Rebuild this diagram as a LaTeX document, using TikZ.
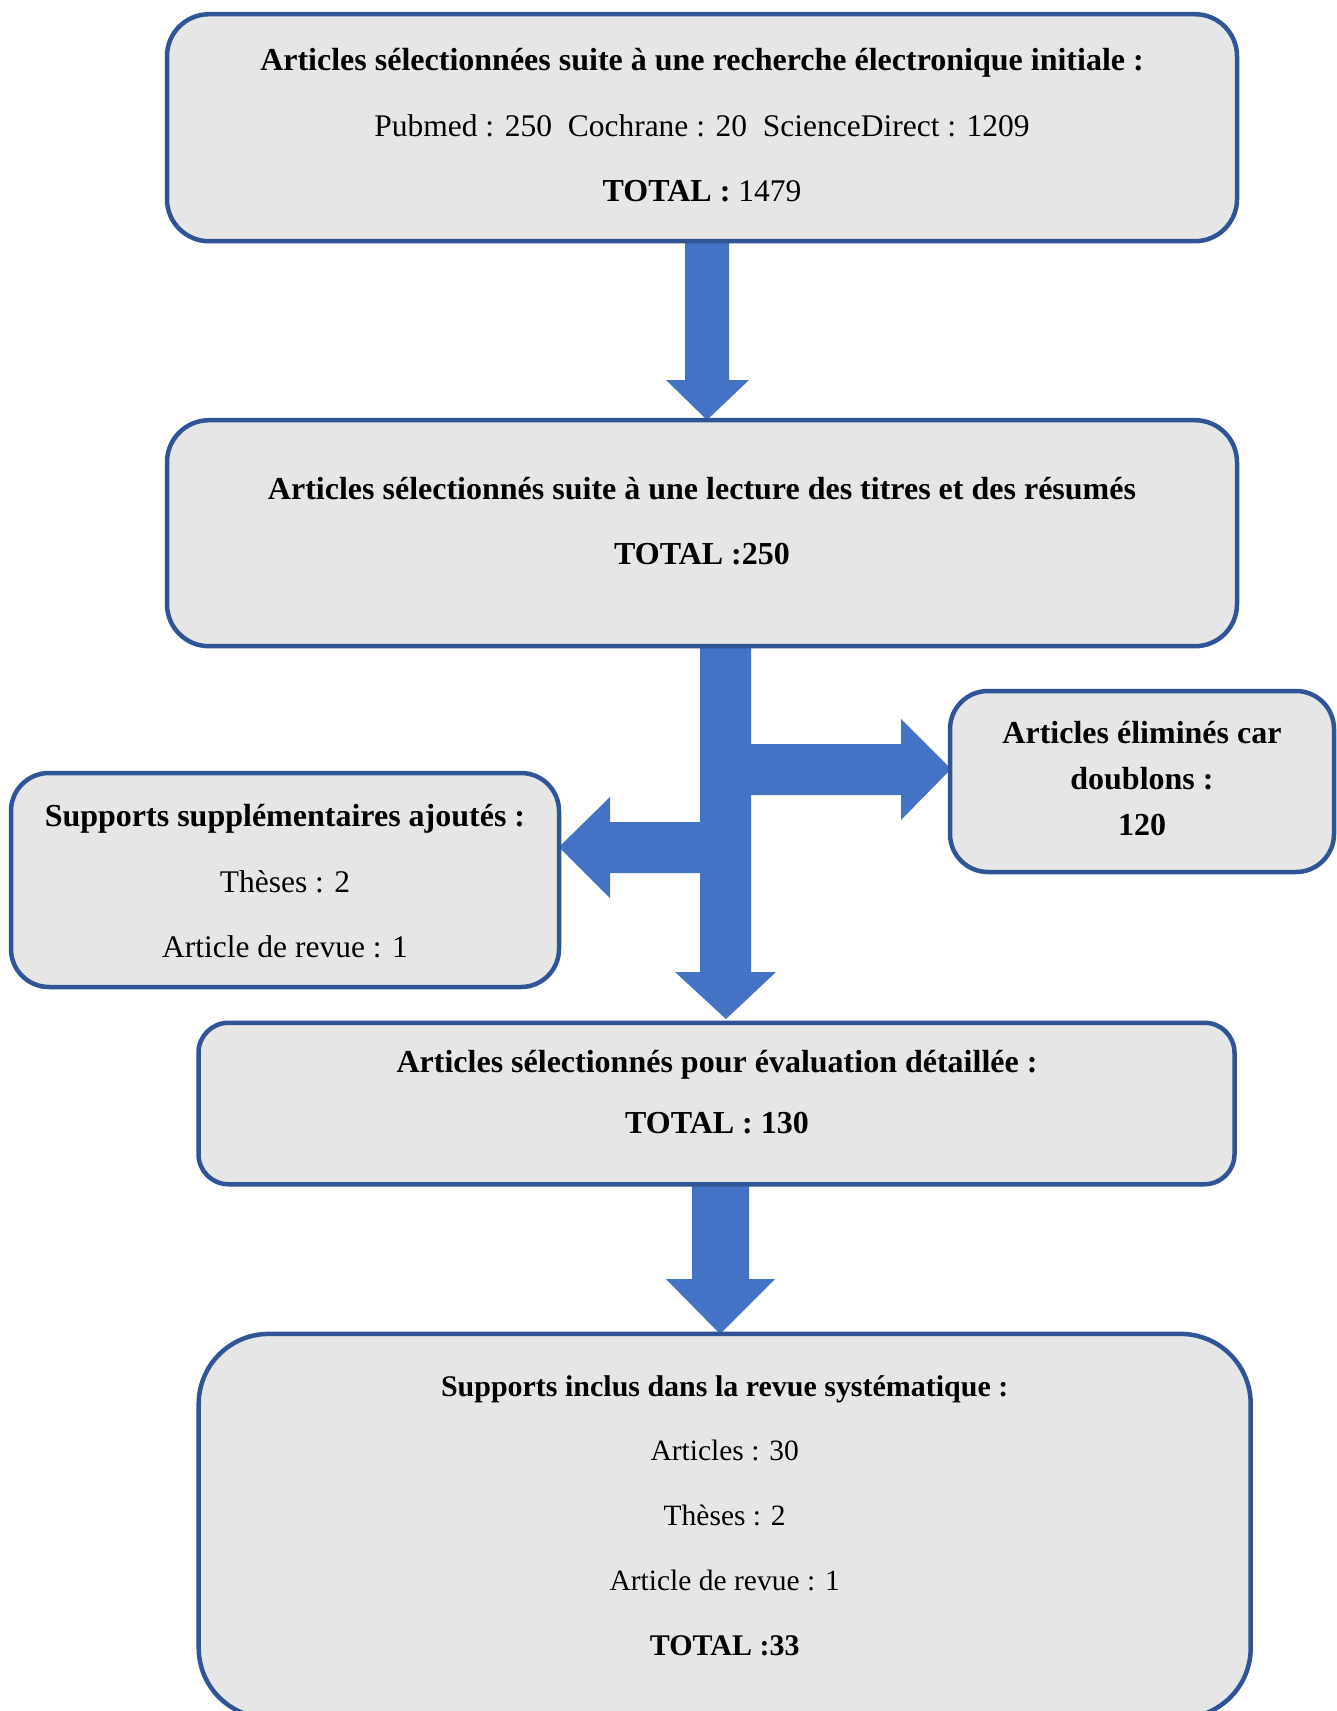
\documentclass[tikz,border=0pt]{standalone}
\usepackage{fontspec}
\setmainfont{Liberation Serif}[BoldFeatures={Scale=1.016}]
\definecolor{bord}{HTML}{2F5597}
\definecolor{boxfill}{HTML}{E6E6E6}
\definecolor{arrowc}{HTML}{4472C4}
\tikzset{
  flowbox/.style={draw=bord, fill=boxfill, line width=4.5pt, rectangle, inner sep=0pt},
  txt/.style={align=center, text=black, inner sep=0pt, font=\fontsize{31.5}{65.5}\selectfont},
  blockarrow/.style={fill=arrowc, draw=none}
}
\begin{document}
\begin{tikzpicture}[x=1pt,y=-1pt]
\useasboundingbox (0,0) rectangle (1337,1711);
\clip (0,0) rectangle (1337,1711);
% block arrows
\fill[blockarrow] (685,241) -- (729,241) -- (729,380) -- (749,380) -- (707,420) -- (666,380) -- (685,380) -- cycle;
\fill[blockarrow] (700,646) -- (751,646) -- (751,972) -- (776,972) -- (726,1019) -- (675,972) -- (700,972) -- cycle;
\fill[blockarrow] (751,744) -- (901,744) -- (901,719) -- (951,769) -- (901,820) -- (901,795) -- (751,795) -- cycle;
\fill[blockarrow] (700,822) -- (610,822) -- (610,797) -- (559,847) -- (610,898) -- (610,873) -- (700,873) -- cycle;
\fill[blockarrow] (692,1184) -- (749,1184) -- (749,1279) -- (775,1279) -- (720,1334) -- (666,1279) -- (692,1279) -- cycle;
% boxes
\node[flowbox, rounded corners=42pt, minimum width=1070pt, minimum height=227pt] (b1) at (702,127.7) {};
\node[flowbox, rounded corners=42pt, minimum width=1070pt, minimum height=226pt] (b2) at (702,533.2) {};
\node[flowbox, rounded corners=38pt, minimum width=548pt, minimum height=214pt] (bl) at (285,880) {};
\node[flowbox, rounded corners=38pt, minimum width=384pt, minimum height=181pt] (br) at (1142,781.5) {};
\node[flowbox, rounded corners=30pt, minimum width=1036pt, minimum height=161.5pt] (b3) at (716.5,1103.5) {};
\node[flowbox, rounded corners=70pt, minimum width=1052pt, minimum height=384pt] (b4) at (724.7,1525.9) {};
% texts
\node[txt] (t1) at (702,125.5) {\textbf{Articles sélectionnées suite à une recherche électronique initiale :}\\
Pubmed : 250\ \ Cochrane : 20\ \ ScienceDirect : 1209\\
\textbf{TOTAL :} 1479};
\node[txt] (t2) at (702,521) {\textbf{Articles sélectionnés suite à une lecture des titres et des résumés}\\
\textbf{TOTAL :250}};
\node[txt] (tl) at (285,881.5) {\textbf{Supports supplémentaires ajoutés :}\\
Thèses : 2\\
Article de revue : 1};
\node[txt, font=\fontsize{31.5}{46}\selectfont] (tr) at (1142,779) {\textbf{Articles éliminés car}\\
\textbf{doublons :}\\
\textbf{120}};
\node[txt, font=\fontsize{31.5}{61}\selectfont] (t3) at (717,1092.5) {\textbf{Articles sélectionnés pour évaluation détaillée :}\\
\textbf{TOTAL : 130}};
\node[txt, font=\fontsize{29.5}{64.75}\selectfont] (t4) at (724.7,1515.5) {\textbf{Supports inclus dans la revue systématique :}\\
Articles : 30\\
Thèses : 2\\
Article de revue : 1\\
\textbf{TOTAL :33}};
\end{tikzpicture}
\end{document}
